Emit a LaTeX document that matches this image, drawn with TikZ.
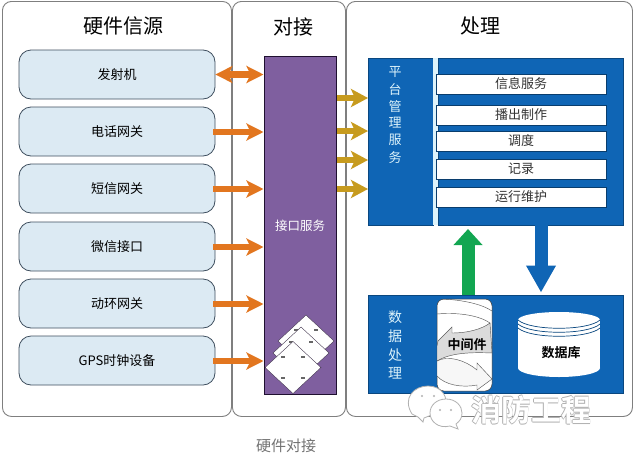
\documentclass[tikz,border=0pt]{standalone}
\usepackage{fontspec}
\setmainfont{Noto Sans CJK SC}
\newfontfamily\cjkb{Noto Sans CJK SC Bold}
\usetikzlibrary{arrows.meta,calc}
\definecolor{panelline}{HTML}{7F7F7F}
\definecolor{boxfill}{HTML}{DCEAF3}
\definecolor{boxline}{HTML}{3F4F5F}
\definecolor{purp}{HTML}{7F5F9F}
\definecolor{purpline}{HTML}{1F1030}
\definecolor{oarrow}{HTML}{E2761F}
\definecolor{garrow}{HTML}{C79B1E}
\definecolor{blu}{HTML}{0F65B5}
\definecolor{lblue}{HTML}{DDF3FB}
\definecolor{grn}{HTML}{12A651}
\definecolor{wm}{HTML}{B0B0B0}
\tikzset{
 x=1pt,y=-1pt,
 panel/.style={draw=panelline,line width=.9pt,fill=white,rounded corners=9pt,minimum height=415pt,inner sep=0pt,anchor=north west},
 srcbox/.style={draw=boxline,line width=.8pt,fill=boxfill,rounded corners=12pt,minimum width=196pt,minimum height=49pt,inner sep=0pt,font=\fontsize{13}{14}\selectfont,text=black},
 title/.style={font=\fontsize{20}{22}\selectfont,text=black},
 bluebox/.style={fill=blu,draw=blu!70!black,line width=.4pt,inner sep=0pt,anchor=north west},
 whitebar/.style={fill=white,draw=blu!60!black,line width=.4pt,minimum width=170pt,minimum height=20pt,inner sep=0pt,font=\fontsize{13}{14}\selectfont,text=black!80},
 side/.style={text=lblue,font=\fontsize{13}{14}\selectfont,inner sep=0pt},
 orangearrow/.style={draw=oarrow,line width=6.5pt,-{Stealth[length=17pt,width=17pt,inset=4pt]}},
 orangedouble/.style={draw=oarrow,line width=6.5pt,{Stealth[length=17pt,width=17pt,inset=4pt]}-{Stealth[length=17pt,width=17pt,inset=4pt]}},
 goldarrow/.style={draw=garrow,line width=6pt,-{Stealth[length=17pt,width=18pt,inset=4pt]}},
 swirl/.style={draw=black!65,line width=.45pt}
}
\begin{document}
\begin{tikzpicture}
\useasboundingbox (0,0) rectangle (636,466);
\fill[white] (0,0) rectangle (636,466);
% panels
\node[panel,minimum width=229pt] (p1) at (2,1) {};
\node[panel,minimum width=113pt] (p2) at (232,1) {};
\node[panel,minimum width=286pt] (p3) at (346,1) {};
\node[title] (t1) at (123,26) {硬件信源};
\node[title] (t2) at (293,27) {对接};
\node[title] (t3) at (480,26) {处理};
% source boxes
\node[srcbox] (b1) at (117,74.5) {发射机};
\node[srcbox] (b2) at (117,131.5) {电话网关};
\node[srcbox] (b3) at (117,188.5) {短信网关};
\node[srcbox] (b4) at (117,246.5) {微信接口};
\node[srcbox] (b5) at (117,303.5) {动环网关};
\node[srcbox] (b6) at (117,360.5) {GPS时钟设备};
% interface
\node[draw=purpline,line width=1pt,fill=purp,minimum width=72pt,minimum height=338pt,inner sep=0pt] (api) at (300,225) {};
\node[text=white,font=\fontsize{12.5}{14}\selectfont] (apilabel) at (300,226) {接口服务};
% notes
\foreach \cx/\cy in {306/341,301/353,293/367.5}{
 \fill[white,draw=purp!40!black,line width=.35pt] (\cx-28,\cy) -- (\cx,\cy-26) -- (\cx+28,\cy) -- (\cx,\cy+26) -- cycle;
 \fill[black!60] (\cx-12,\cy-12) rectangle ++(3.5,2);
 \fill[black!60] (\cx+8,\cy-12) rectangle ++(3.5,2);
 \fill[black!60] (\cx-12,\cy+9) rectangle ++(3.5,2);
 \fill[black!60] (\cx+8,\cy+9) rectangle ++(3.5,2);
}
% upper blue
\node[bluebox,minimum width=65pt,minimum height=167pt] (mgmt) at (368,58) {};
\fill[lblue] (433,58) rectangle (438,225);
\node[bluebox,minimum width=185pt,minimum height=167pt] (svc) at (438,58) {};
\foreach \c/\y/\s in {m1/72/平,m2/90/台,m3/107/管,m4/123/理,m5/140/服,m6/158/务}
 \node[side] (\c) at (395,\y) {\s};
\node[whitebar] (s1) at (521,84) {信息服务};
\node[whitebar] (s2) at (521,115) {播出制作};
\node[whitebar] (s3) at (521,141) {调度};
\node[whitebar] (s4) at (521,169) {记录};
\node[whitebar] (s5) at (521,197) {运行维护};
% lower blue
\node[bluebox,minimum width=255pt,minimum height=98pt] (data) at (368,295) {};
\foreach \c/\y/\s in {d1/317/数,d2/336/据,d3/355/处,d4/373/理}
 \node[side,font=\fontsize{14}{15}\selectfont] (\c) at (395,\y) {\s};
% cylinder
\fill[white] (518,320) rectangle (600,368);
\fill[white] (559,320) ellipse[x radius=41pt,y radius=8pt];
\fill[white] (559,368) ellipse[x radius=41pt,y radius=9pt];
\draw[blu!70!black,line width=.7pt] (518,320) .. controls (530,331) and (588,331) .. (600,320);
\draw[blu!70!black,line width=.7pt] (518,324) .. controls (530,335) and (588,335) .. (600,324);
\draw[blu!70!black,line width=.7pt] (518,328) .. controls (530,339) and (588,339) .. (600,328);
\node[font=\cjkb\fontsize{13}{14}\selectfont,text=black] (db) at (561,353) {数据库};
% middleware
\node[draw=black!80,line width=.5pt,fill=white,rounded corners=7pt,minimum width=55pt,minimum height=92pt,inner sep=0pt] (mw) at (464.5,345) {};
\begin{scope}
\clip[rounded corners=7pt] (437,299) rectangle (492,391);
\draw[swirl] (437,299) .. controls (460,299) and (482,304) .. (492,311);
\draw[swirl] (437,314) .. controls (460,312) and (480,316) .. (490,323);
% gray arrow running left
\fill[black!14,swirl] (438,341) -- (452,327) -- (452,333) .. controls (468,333) and (482,329) .. (490,323) -- (492,353) .. controls (470,352) and (450,353) .. (437,361) -- (437,346) -- cycle;
% white arrow running right
\fill[black!3,swirl] (437,361) .. controls (448,355) and (465,360) .. (477,370) -- (477,363) -- (492,379) -- (477,390) -- (477,385) .. controls (462,388) and (445,385) .. (437,376) -- cycle;
\end{scope}
\node[font=\cjkb\fontsize{13}{14}\selectfont,text=black] (mwt) at (467,345) {中间件};
% connectors
\draw[orangedouble] (b1.east) -- (b1.east -| api.west);
\foreach \b in {b2,b3,b4,b5,b6}
 \draw[orangearrow] ($(\b.east)+(-2,0.5)$) -- ($(\b.east -| api.west)+(0,0.5)$);
\foreach \y in {98,131,160,189}{
 \draw[goldarrow] (api.east |- 0,\y) -- (mgmt.west |- 0,\y);
}
\coordinate (gs) at (468,295);
\coordinate (ge) at (468,229);
\draw[grn,line width=13pt,-{Triangle[length=16pt,width=28pt]}] (gs) -- (ge);
\coordinate (bs) at (541,225);
\coordinate (be) at (541,292.5);
\draw[blu,line width=13pt,-{Triangle[length=27pt,width=28pt]}] (bs) -- (be);
% watermark
\draw[wm,fill=white,line width=.8pt] (418,417) -- (412,414) .. controls (402,398) and (414,386) .. (428,386) .. controls (442,386) and (450,398) .. (444,410) -- (424,418) -- (423,422) -- cycle;
\draw[wm,fill=white,line width=.8pt] (456,424) -- (458,429) -- (450,426) .. controls (438,429) and (430,421) .. (430,413) .. controls (430,405) and (437,399) .. (446,399) .. controls (456,399) and (462,406) .. (462,413) .. controls (462,418) and (460,421) .. (456,424) -- cycle;
\foreach \cx/\cy in {422/396,434/396,440/410,451/410}
 \fill[wm] (\cx,\cy) circle (1.2pt);
\foreach \dx/\dy in {-.6/0,.6/0,0/-.6,0/.6}
 \node[text=wm,font=\cjkb\fontsize{30}{32}\selectfont] at (531+\dx,410+\dy) {消防工程};
\node[text=white,font=\cjkb\fontsize{30}{32}\selectfont] (wmt) at (531,410) {消防工程};
% caption
\node[text=black!55,font=\fontsize{15}{17}\selectfont] (cap) at (286,446) {硬件对接};
\end{tikzpicture}
\end{document}
